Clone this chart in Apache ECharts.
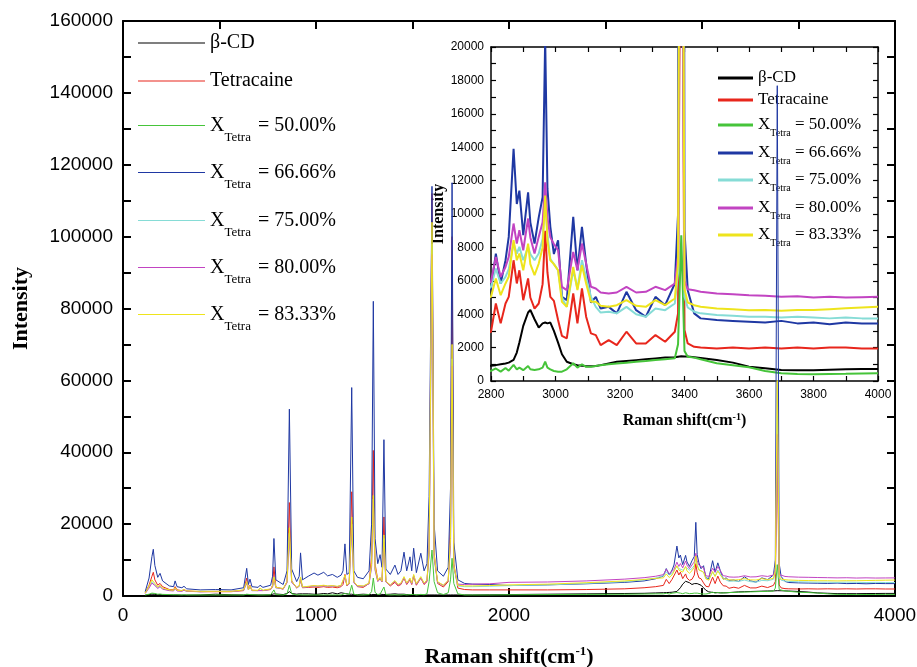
<!DOCTYPE html>
<html>
<head>
<meta charset="utf-8">
<title>Raman spectra</title>
<script src="https://cdn.jsdelivr.net/npm/echarts/dist/echarts.min.js"></script>
<style>
  html, body { margin: 0; padding: 0; background: #fff; }
  #main { width: 917px; height: 667px; }
</style>
</head>
<body>
<div id="main"></div>
<script>
// Raman shift grid (cm-1), shared by every spectrum
const shift = [
  115, 135, 150, 157, 165, 180, 192, 205, 240, 262,
  270, 280, 305, 316, 330, 400, 480, 560, 625, 641,
  650, 658, 668, 700, 710, 725, 765, 775, 782, 792,
  830, 850, 862, 874, 900, 913, 920, 930, 960, 990,
  1010, 1040, 1060, 1085, 1110, 1130, 1140, 1150, 1160, 1172,
  1185, 1196, 1215, 1245, 1275, 1288, 1297, 1306, 1320, 1332,
  1342, 1352, 1362, 1385, 1409, 1425, 1440, 1456, 1470, 1487,
  1496, 1506, 1520, 1543, 1560, 1575, 1586, 1601, 1612, 1630,
  1660, 1685, 1697, 1705, 1714, 1735, 1770, 1810, 1900, 2000,
  2200, 2400, 2600, 2700, 2760, 2800, 2815, 2830, 2845, 2855,
  2870, 2880, 2888, 2900, 2915, 2922, 2935, 2948, 2960, 2968,
  2975, 2984, 2995, 3008, 3020, 3035, 3055, 3068, 3082, 3095,
  3110, 3125, 3140, 3165, 3190, 3220, 3250, 3280, 3310, 3340,
  3370, 3380, 3390, 3400, 3410, 3430, 3450, 3500, 3550, 3600,
  3650, 3700, 3750, 3800, 3850, 3900, 3950, 4000
];

// intensities
const betaCD = [
  200, 400, 500, 600, 450, 350, 400, 300, 300, 300,
  300, 300, 250, 250, 250, 300, 500, 350, 300, 350,
  300, 350, 300, 300, 300, 300, 350, 400, 600, 400,
  400, 700, 1200, 700, 500, 600, 700, 600, 600, 500,
  500, 700, 600, 900, 600, 900, 600, 700, 500, 500,
  500, 400, 400, 500, 400, 400, 500, 400, 400, 500,
  500, 400, 400, 500, 600, 500, 500, 500, 400, 400,
  300, 300, 300, 300, 300, 300, 300, 300, 300, 300,
  300, 300, 300, 300, 300, 300, 300, 300, 350, 400,
  500, 600, 700, 750, 850, 920, 950, 1000, 1050, 1100,
  1260, 1700, 2300, 3300, 4100, 4250, 3700, 3200, 3450, 3500,
  3450, 3500, 3000, 2300, 1600, 1150, 1000, 950, 920, 880,
  880, 900, 950, 1050, 1150, 1200, 1250, 1300, 1350, 1400,
  1420, 1450, 1480, 1460, 1460, 1420, 1380, 1260, 1100, 860,
  760, 660, 650, 640, 680, 700, 720, 720
];

const tetracaine = [
  900, 3000, 5500, 6600, 4500, 3000, 3500, 2600, 1800, 1700,
  2600, 1700, 1500, 1800, 1400, 1200, 1200, 1200, 1500, 5000,
  1800, 3000, 1600, 1500, 2200, 1500, 1800, 3000, 8100, 2500,
  1900, 4000, 26000, 4200, 2200, 2800, 4500, 2300, 2400, 2500,
  2400, 2600, 2400, 2500, 2300, 2600, 3200, 6000, 2800, 3500,
  29000, 4000, 2600, 2400, 3500, 11000, 40500, 9000, 4500, 5000,
  4000, 22000, 4000, 2800, 3800, 2800, 3200, 5000, 3200, 4500,
  3200, 5500, 3000, 5000, 3200, 4000, 13600, 112000, 12000, 3500,
  2500, 4000, 20000, 100000, 9000, 2200, 1800, 1700, 1700, 1700,
  1700, 1800, 2000, 2300, 2600, 2950, 4640, 3450, 4640, 5040,
  7230, 5840, 6630, 4840, 6140, 5000, 4340, 4640, 5800, 9000,
  6500, 5040, 4800, 3650, 2700, 2550, 5240, 3450, 5540, 3850,
  2850, 2750, 2150, 2450, 2150, 2950, 2250, 2250, 2750, 2350,
  2950, 4050, 40000, 3050, 2250, 2050, 2000, 1950, 2000, 1950,
  2000, 1950, 2000, 1950, 2000, 2000, 1950, 1950
];

const x50 = [
  300, 500, 800, 900, 700, 500, 550, 450, 400, 350,
  400, 350, 300, 350, 300, 300, 300, 300, 300, 500,
  300, 400, 300, 300, 350, 300, 350, 500, 1700, 400,
  300, 600, 3000, 600, 300, 350, 600, 300, 300, 300,
  300, 300, 300, 300, 300, 300, 350, 700, 350, 400,
  3000, 500, 300, 300, 400, 1200, 5000, 1000, 400, 500,
  400, 2500, 400, 300, 350, 300, 300, 400, 300, 400,
  300, 450, 300, 450, 350, 600, 4000, 12800, 4000, 900,
  400, 900, 4500, 10500, 3500, 600, 300, 300, 300, 350,
  400, 450, 500, 550, 600, 600, 750, 560, 780, 620,
  960, 700, 800, 650, 900, 700, 660, 700, 800, 1160,
  800, 700, 600, 560, 560, 700, 1060, 800, 1000, 850,
  860, 900, 950, 1000, 1050, 1100, 1150, 1200, 1260, 1300,
  1360, 2200, 8730, 1800, 1450, 1400, 1300, 1060, 950, 820,
  600, 460, 420, 400, 420, 430, 450, 460
];

const x6666 = [
  1200, 5000, 11000, 13000, 8500, 5200, 6300, 4200, 2800, 2600,
  4200, 2600, 2300, 2700, 2000, 1700, 1800, 1700, 2300, 7700,
  3200, 4700, 2600, 2400, 3000, 2400, 3000, 5500, 16000, 4500,
  3200, 7000, 52000, 7500, 4000, 5500, 12000, 4500, 5500, 6400,
  5800, 6600, 5600, 6000, 5200, 5800, 7000, 14500, 6000, 6500,
  58000, 7000, 5200, 4800, 7000, 20000, 82000, 16000, 9000, 11500,
  8000, 43500, 7500, 6000, 8600, 6000, 7000, 12200, 7000, 10900,
  7000, 13300, 6500, 11900, 7000, 9000, 27700, 114000, 20000, 7000,
  5500, 8000, 30000, 115000, 15000, 4500, 3500, 3300, 3200, 2900,
  3100, 3400, 3800, 4200, 4800, 5540, 7630, 5840, 7230, 8630,
  13900, 10600, 11400, 8730, 11300, 9500, 8230, 9800, 11000, 20500,
  11500, 9230, 7600, 8430, 5040, 4840, 9830, 6630, 9230, 7030,
  4700, 5040, 4340, 4440, 4050, 5340, 4240, 3850, 5040, 4540,
  5840, 10000, 142000, 9030, 5440, 4050, 3750, 3650, 3600, 3550,
  3500, 3600, 3450, 3500, 3400, 3500, 3450, 3450
];

const x75 = [
  800, 2500, 4000, 4500, 3200, 2300, 2800, 2000, 1600, 1500,
  2200, 1500, 1400, 1700, 1300, 1200, 1300, 1300, 1600, 3800,
  1700, 2800, 1500, 1500, 2100, 1500, 1900, 2600, 5000, 2300,
  2000, 3800, 17500, 3900, 2300, 2700, 5000, 2400, 2600, 2800,
  2700, 2900, 2700, 2800, 2600, 2900, 3400, 5500, 3000, 3500,
  20000, 3800, 2800, 2700, 3500, 8500, 27000, 7500, 4200, 5000,
  4000, 16000, 4000, 3000, 4200, 3100, 3500, 5200, 3500, 4800,
  3500, 5800, 3300, 5200, 3500, 4300, 12000, 98000, 11000, 3800,
  2900, 4200, 15000, 66000, 8000, 2800, 2600, 2600, 2700, 2900,
  3100, 3500, 4000, 4500, 5000, 5640, 6730, 5840, 6240, 6700,
  8230, 7630, 8030, 7230, 8030, 7600, 7230, 7630, 8500, 11000,
  8800, 7300, 7000, 6630, 5000, 4440, 6630, 5540, 7230, 6200,
  5040, 4440, 4100, 4150, 4050, 4440, 4000, 3850, 4340, 4240,
  4640, 6500, 50000, 5040, 4400, 4150, 4050, 3950, 3900, 3850,
  3850, 3800, 3850, 3800, 3750, 3800, 3750, 3750
];

const x80 = [
  700, 2200, 3600, 4000, 2900, 2100, 2600, 1900, 1500, 1400,
  2100, 1400, 1300, 1600, 1300, 1200, 1300, 1300, 1600, 3600,
  1700, 2700, 1500, 1500, 2000, 1500, 1900, 2500, 4800, 2300,
  2000, 3700, 16500, 3800, 2300, 2700, 4800, 2400, 2600, 2800,
  2700, 2900, 2700, 2800, 2600, 2900, 3300, 5300, 3000, 3400,
  19000, 3700, 2800, 2700, 3400, 8000, 26000, 7200, 4000, 4800,
  3900, 15000, 3900, 3000, 4100, 3000, 3400, 5000, 3400, 4700,
  3400, 5600, 3200, 5000, 3400, 4200, 11500, 95000, 10500, 3800,
  3000, 4200, 14000, 64000, 8000, 3300, 3200, 3300, 3400, 3800,
  3900, 4200, 4700, 5100, 5500, 5940, 7430, 6240, 6830, 7430,
  9430, 8230, 9030, 7830, 9730, 8600, 7630, 8630, 9500, 11900,
  9800, 8600, 8200, 7830, 5640, 5440, 7730, 6630, 8230, 7030,
  5640, 5540, 5300, 5240, 5300, 5640, 5300, 5340, 5640, 5440,
  5840, 7500, 45000, 6000, 5500, 5440, 5350, 5240, 5200, 5140,
  5100, 5040, 5080, 5000, 5050, 5000, 5020, 5040
];

const x8333 = [
  800, 2800, 4500, 5000, 3500, 2500, 3000, 2200, 1700, 1600,
  2300, 1600, 1500, 1800, 1400, 1300, 1300, 1300, 1700, 4000,
  1800, 2800, 1600, 1600, 2200, 1600, 2000, 2700, 5300, 2400,
  2100, 4000, 19000, 4100, 2400, 2800, 5300, 2500, 2700, 2900,
  2800, 3000, 2800, 2900, 2700, 3000, 3500, 5800, 3100, 3600,
  22000, 4000, 2900, 2800, 3600, 9000, 28000, 8000, 4300, 5200,
  4100, 17000, 4100, 3100, 4300, 3200, 3600, 5400, 3600, 5000,
  3600, 6000, 3400, 5400, 3600, 4500, 12500, 104000, 11500, 4000,
  3000, 4400, 16000, 70000, 8500, 3000, 2800, 2800, 2900, 3100,
  3300, 3700, 4200, 4600, 4900, 5040, 6140, 5140, 5840, 6240,
  8430, 7230, 7630, 6630, 8230, 7000, 6340, 7030, 8000, 11100,
  8400, 7230, 7000, 6630, 4740, 4440, 6830, 5440, 6930, 5840,
  4740, 4740, 4500, 4440, 4540, 4840, 4500, 4440, 4840, 4540,
  4940, 7000, 60000, 5500, 4700, 4540, 4450, 4340, 4300, 4240,
  4250, 4200, 4250, 4250, 4300, 4350, 4400, 4440
];

const seriesNames = ['β-CD', 'Tetracaine', 'XTetra = 50.00%', 'XTetra = 66.66%',
  'XTetra = 75.00%', 'XTetra = 80.00%', 'XTetra = 83.33%'];
const seriesData = [betaCD, tetracaine, x50, x6666, x75, x80, x8333];
const colors = ['#000000', '#e8261c', '#46c43a', '#1f38a3', '#86dcd6', '#c244c2', '#eee41c'];

const serif = '"Liberation Serif", "Times New Roman", serif';
const sans = '"Liberation Sans", Arial, sans-serif';

const chart = echarts.init(document.getElementById('main'));

function pairs(ys) {
  return shift.map((x, i) => [x, ys[i]]);
}

// legend text: X with a "Tetra" subscript
function legendText(name) {
  if (name.indexOf('XTetra') === 0) {
    return '{x|X}{s|Tetra}{t|' + name.slice(6) + '}';
  }
  return name;
}

const plain = v => String(v);

function axisOf(grid, pos, opt) {
  return Object.assign({
    gridIndex: grid, type: 'value', position: pos,
    axisLine: { onZero: false, lineStyle: { color: '#000', width: 2 } },
    axisTick: { inside: true, length: 8, lineStyle: { color: '#000', width: 2 } },
    minorTick: { show: true, splitNumber: 2, length: 8, lineStyle: { color: '#000', width: 2 } },
    splitLine: { show: false },
    axisLabel: { show: false }
  }, opt);
}

// thinner frame for the inset
const insetFrame = {
  axisLine: { onZero: false, lineStyle: { color: '#000', width: 1.5 } },
  axisTick: { inside: true, length: 5, lineStyle: { color: '#000', width: 1.2 } },
  minorTick: { show: true, splitNumber: 2, length: 5, lineStyle: { color: '#000', width: 1.2 } }
};

const mainLegendY = [43, 81, 119, 166, 214, 261, 308];
const insetLegendY = [78, 100, 122, 150, 177, 205, 232];

const legends = [];
seriesNames.forEach((n, i) => {
  legends.push({
    data: [n], left: 138, top: mainLegendY[i] - 12, padding: 0,
    icon: 'rect', itemWidth: 67, itemHeight: 1, selectedMode: false,
    formatter: legendText,
    textStyle: {
      fontFamily: serif, fontSize: 20, lineHeight: 24, color: '#000',
      rich: {
        x: { fontFamily: serif, fontSize: 20, lineHeight: 24, color: '#000' },
        s: { fontFamily: serif, fontSize: 13, lineHeight: 24, color: '#000', padding: [24, 2, 0, 0] },
        t: { fontFamily: serif, fontSize: 20, lineHeight: 24, color: '#000' }
      }
    }
  });
  legends.push({
    data: [n], left: 718, top: insetLegendY[i] - 10, padding: 0,
    icon: 'rect', itemWidth: 35, itemHeight: 3, selectedMode: false,
    formatter: legendText,
    textStyle: {
      fontFamily: serif, fontSize: 17, lineHeight: 20, color: '#000',
      rich: {
        x: { fontFamily: serif, fontSize: 17, lineHeight: 20, color: '#000' },
        s: { fontFamily: serif, fontSize: 10, lineHeight: 20, color: '#000', padding: [16, 0, 0, 0] },
        t: { fontFamily: serif, fontSize: 17, lineHeight: 20, color: '#000' }
      }
    }
  });
});

const series = [];
seriesNames.forEach((n, i) => {
  // inset (2800-4000 zoom), thick lines
  series.push({
    name: n, type: 'line', xAxisIndex: 2, yAxisIndex: 2,
    data: pairs(seriesData[i]), symbol: 'none', clip: true, z: 3,
    lineStyle: { width: 2, color: colors[i] }, itemStyle: { color: colors[i] }
  });
  // full spectrum, thin lines on top
  series.push({
    name: n, type: 'line', xAxisIndex: 0, yAxisIndex: 0,
    data: pairs(seriesData[i]), symbol: 'none', clip: true, z: 5,
    lineStyle: { width: 1, color: colors[i] }, itemStyle: { color: colors[i] }
  });
});

const axisNameStyle = (size) => ({
  fontFamily: serif, fontWeight: 'bold', fontSize: size, color: '#000',
  rich: { sup: { fontFamily: serif, fontWeight: 'bold', fontSize: Math.round(size * 0.6), padding: [0, 0, Math.round(size * 0.5), 0], lineHeight: size } }
});

const option = {
  animation: false,
  backgroundColor: '#fff',
  grid: [
    { left: 123, right: 22, top: 21, bottom: 71, outerBoundsMode: 'none' },
    { left: 491, right: 39, top: 47, bottom: 286, outerBoundsMode: 'none' }
  ],
  legend: legends,
  xAxis: [
    axisOf(0, 'bottom', {
      min: 0, max: 4000, interval: 1000,
      axisLabel: { show: true, fontFamily: sans, fontSize: 19, color: '#000', margin: 10, formatter: plain },
      name: 'Raman shift(cm{sup|-1})', nameLocation: 'middle', nameGap: 50,
      nameTextStyle: axisNameStyle(22)
    }),
    axisOf(0, 'top', { min: 0, max: 4000, interval: 1000 }),
    axisOf(1, 'bottom', Object.assign({
      min: 2800, max: 4000, interval: 200,
      axisLabel: { show: true, fontFamily: sans, fontSize: 12, color: '#000', margin: 8, formatter: plain },
      name: 'Raman shift(cm{sup|-1})', nameLocation: 'middle', nameGap: 32,
      nameTextStyle: axisNameStyle(16)
    }, insetFrame)),
    axisOf(1, 'top', Object.assign({ min: 2800, max: 4000, interval: 200 }, insetFrame))
  ],
  yAxis: [
    axisOf(0, 'left', {
      min: 0, max: 160000, interval: 20000,
      axisLabel: { show: true, fontFamily: sans, fontSize: 19, color: '#000', margin: 10, formatter: plain },
      name: 'Intensity', nameLocation: 'middle', nameGap: 91,
      nameTextStyle: axisNameStyle(22)
    }),
    axisOf(0, 'right', { min: 0, max: 160000, interval: 20000 }),
    axisOf(1, 'left', Object.assign({
      min: 0, max: 20000, interval: 2000,
      axisLabel: { show: true, fontFamily: sans, fontSize: 12, color: '#000', margin: 7, formatter: plain },
      name: 'Intensity', nameLocation: 'middle', nameGap: 33,
      nameTextStyle: axisNameStyle(16)
    }, insetFrame)),
    axisOf(1, 'right', Object.assign({ min: 0, max: 20000, interval: 2000 }, insetFrame))
  ],
  series: series
};

chart.setOption(option);
</script>
</body>
</html>
